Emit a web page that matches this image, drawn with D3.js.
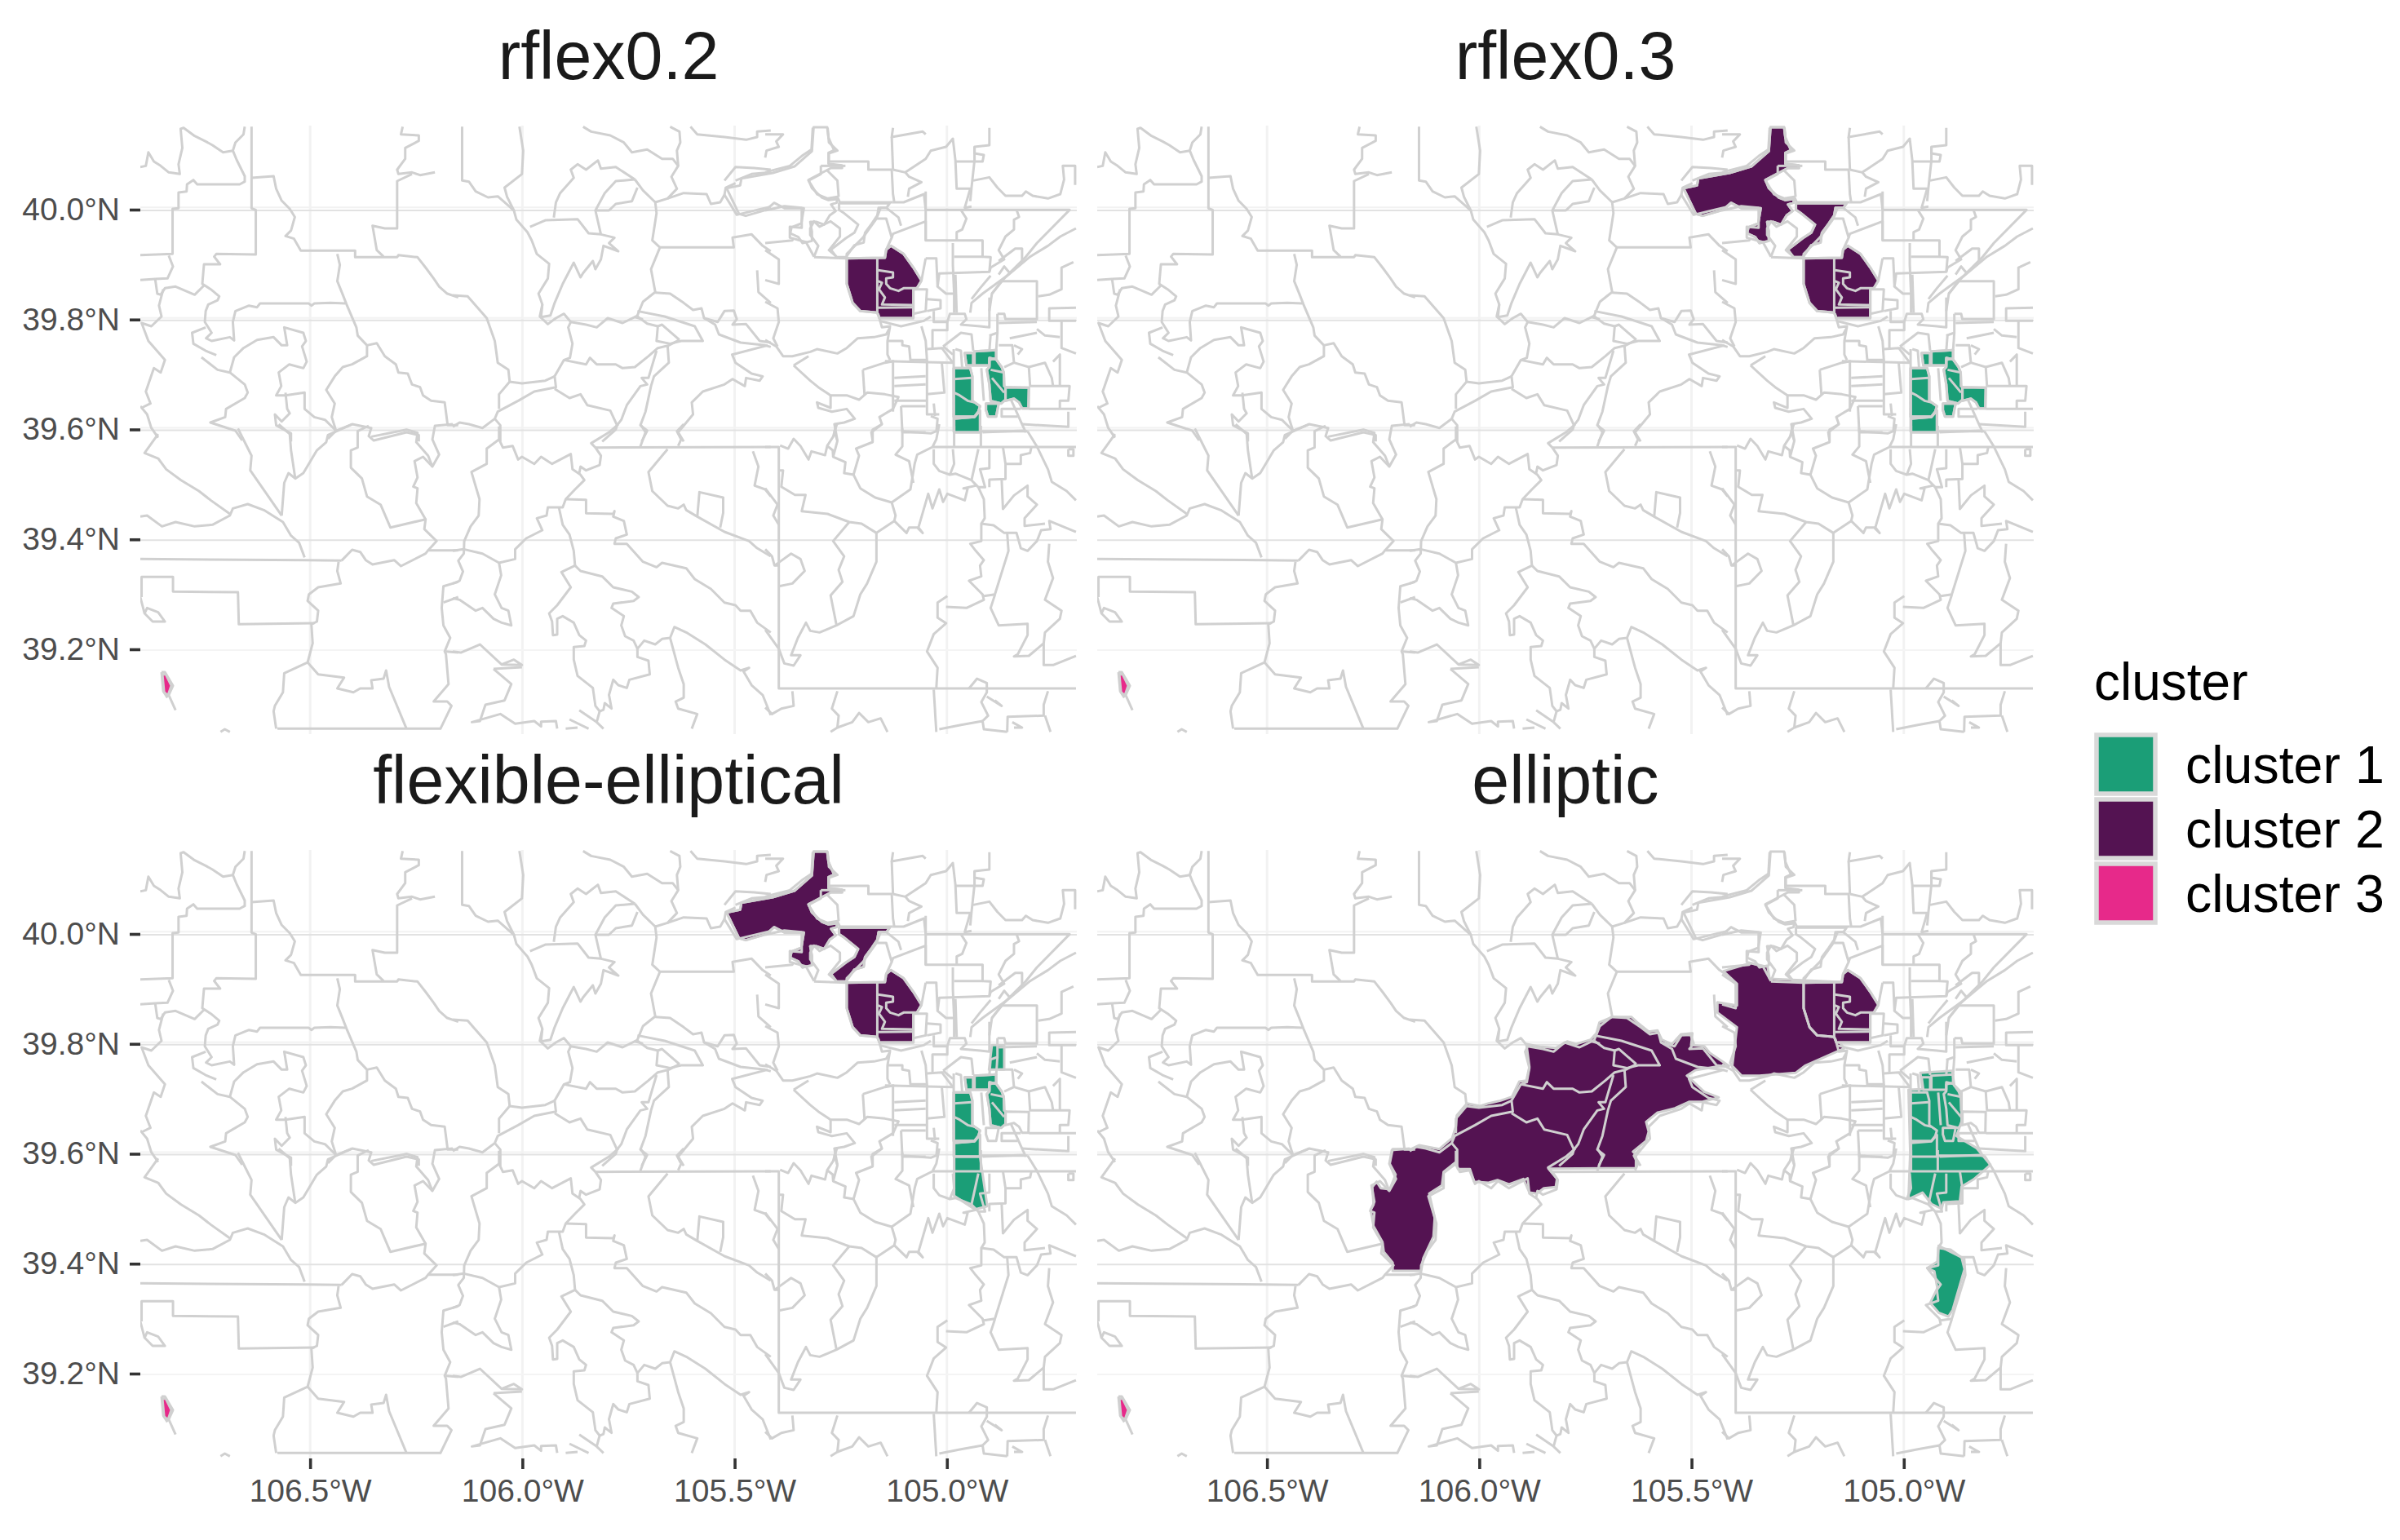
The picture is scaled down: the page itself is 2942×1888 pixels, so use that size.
<!DOCTYPE html>
<html>
<head>
<meta charset="utf-8">
<script src="https://cdn.jsdelivr.net/npm/d3@7"></script>
<style>
  body { margin: 0; background: #fff; }
  text { font-family: "Liberation Sans", Arial, sans-serif; }
</style>
</head>
<body>
<div id="canvas"></div>
<script>
// all map data is degrees west, degrees north, as flat lon,lat lists
var panelTitles = ['rflex0.2', 'rflex0.3', 'flexible-elliptical', 'elliptic'];
var clusterNames = ['cluster 1', 'cluster 2', 'cluster 3'];
var clusterColors = ['#1B9E77', '#541352', '#E7298A'];
var latTicks = [40.0, 39.8, 39.6, 39.4, 39.2];
var lonTicks = [106.5, 106.0, 105.5, 105.0];
var latFaint = [40.004, 39.803, 39.603];

var purpleCore = [105.236,39.911, 105.146,39.912, 105.143,39.927, 105.132,39.934, 105.102,39.919, 105.079,39.894, 105.060,39.870, 105.070,39.857, 105.079,39.853, 105.079,39.801, 105.159,39.801, 105.164,39.811, 105.204,39.814, 105.222,39.829, 105.230,39.849, 105.236,39.864];
var purpleBlobA = [105.314,40.152, 105.282,40.152, 105.279,40.133, 105.266,40.110, 105.279,40.105, 105.279,40.085, 105.247,40.082, 105.247,40.077, 105.273,40.077, 105.295,40.068, 105.326,40.055, 105.318,40.040, 105.295,40.023, 105.279,40.018, 105.258,40.020, 105.260,40.013, 105.273,40.010, 105.262,39.998, 105.276,39.990, 105.289,39.973, 105.308,39.978, 105.322,39.978, 105.318,39.960, 105.318,39.943, 105.340,39.939, 105.350,39.950, 105.369,39.957, 105.366,39.968, 105.343,39.975, 105.337,40.003, 105.382,40.003, 105.407,40.013, 105.426,40.000, 105.474,39.989, 105.490,39.993, 105.519,40.040, 105.487,40.045, 105.484,40.058, 105.410,40.068, 105.359,40.080, 105.318,40.108];
var purpleBlobB = [105.254,40.012, 105.135,40.012, 105.142,40.004, 105.161,40.004, 105.164,39.990, 105.177,39.975, 105.193,39.958, 105.196,39.940, 105.218,39.935, 105.238,39.913, 105.260,39.913, 105.273,39.927, 105.238,39.948, 105.218,39.958, 105.209,39.973, 105.244,39.995, 105.254,40.000];
var purpleEllipticSouth = [106.204,39.381, 106.137,39.381, 106.132,39.404, 106.108,39.444, 106.105,39.479, 106.118,39.523, 106.088,39.538, 106.084,39.563, 106.057,39.580, 106.050,39.568, 106.022,39.568, 106.012,39.545, 105.978,39.543, 105.957,39.548, 105.930,39.540, 105.896,39.550, 105.882,39.525, 105.865,39.523, 105.848,39.533, 105.820,39.535, 105.817,39.550, 105.837,39.569, 105.631,39.570, 105.631,39.595, 105.638,39.600, 105.607,39.620, 105.601,39.637, 105.607,39.655, 105.580,39.672, 105.539,39.680, 105.505,39.692, 105.474,39.692, 105.436,39.700, 105.470,39.710, 105.511,39.740, 105.491,39.750, 105.436,39.757, 105.412,39.758, 105.456,39.781, 105.470,39.794, 105.501,39.796, 105.498,39.818, 105.525,39.816, 105.546,39.798, 105.570,39.806, 105.580,39.823, 105.601,39.821, 105.628,39.838, 105.642,39.848, 105.686,39.848, 105.717,39.838, 105.724,39.818, 105.738,39.806, 105.772,39.798, 105.793,39.803, 105.820,39.791, 105.854,39.793, 105.889,39.798, 105.882,39.756, 105.889,39.731, 105.906,39.729, 105.923,39.701, 105.950,39.694, 105.978,39.689, 105.998,39.684, 106.029,39.689, 106.053,39.667, 106.055,39.647, 106.064,39.625, 106.094,39.605, 106.142,39.612, 106.160,39.605, 106.204,39.605, 106.211,39.578, 106.197,39.558, 106.211,39.531, 106.232,39.533, 106.242,39.545, 106.252,39.535, 106.249,39.503, 106.256,39.493, 106.249,39.463, 106.228,39.434, 106.225,39.416, 106.204,39.396];
var purpleEllipticNorth = [105.425,39.932, 105.361,39.947, 105.321,39.940, 105.316,39.918, 105.146,39.912, 105.150,39.800, 105.141,39.790, 105.233,39.758, 105.255,39.745, 105.340,39.740, 105.382,39.740, 105.404,39.758, 105.393,39.829, 105.439,39.856, 105.439,39.875, 105.393,39.869, 105.393,39.909];

var greenA = [104.958,39.737, 104.938,39.737, 104.938,39.714, 104.954,39.714];
var greenB = [104.935,39.740, 104.884,39.742, 104.884,39.727, 104.900,39.724, 104.900,39.714, 104.935,39.714];
var greenC = [104.900,39.728, 104.884,39.725, 104.871,39.711, 104.866,39.701, 104.865,39.676, 104.862,39.674, 104.862,39.651, 104.872,39.644, 104.897,39.649, 104.900,39.679, 104.906,39.706, 104.900,39.711];
var greenEast = [104.862,39.674, 104.807,39.673, 104.808,39.635, 104.823,39.635, 104.830,39.646, 104.842,39.653, 104.862,39.649];
var greenSmall = [104.908,39.644, 104.878,39.644, 104.884,39.620, 104.903,39.620, 104.908,39.632];
var greenWest = [104.984,39.709, 104.945,39.709, 104.940,39.694, 104.940,39.649, 104.922,39.639, 104.926,39.629, 104.935,39.620, 104.984,39.620];
var greenBottom = [104.983,39.616, 104.935,39.619, 104.922,39.631, 104.922,39.591, 104.983,39.591];
var greenFlexSouth = [104.983,39.591, 104.922,39.591, 104.918,39.570, 104.905,39.500, 104.934,39.494, 104.983,39.519];
var greenFlexNorth = [104.894,39.796, 104.865,39.796, 104.865,39.751, 104.901,39.751];
var greenLarge = [104.961,39.745, 104.886,39.749, 104.881,39.722, 104.864,39.709, 104.864,39.656, 104.876,39.629, 104.829,39.607, 104.796,39.576, 104.836,39.549, 104.864,39.536, 104.868,39.509, 104.907,39.507, 104.911,39.495, 104.935,39.504, 104.956,39.525, 104.989,39.513, 104.985,39.598, 104.989,39.714, 104.956,39.715];
var greenLower = [104.918,39.427, 104.864,39.406, 104.857,39.384, 104.885,39.309, 104.895,39.297, 104.918,39.304, 104.938,39.322, 104.921,39.349, 104.928,39.380, 104.945,39.386, 104.921,39.398];
var pinkSliver = [106.848,39.146, 106.840,39.146, 106.827,39.125, 106.835,39.107, 106.844,39.113];

var boundsNW = [
  [106.900,40.079, 106.887,40.081, 106.881,40.106, 106.868,40.089, 106.852,40.081, 106.833,40.069, 106.807,40.066, 106.810,40.084, 106.801,40.114, 106.805,40.149, 106.798,40.151, 106.772,40.136, 106.746,40.126, 106.730,40.119, 106.705,40.106, 106.682,40.109, 106.676,40.124, 106.657,40.139, 106.654,40.153],
  [106.682,40.109, 106.673,40.092, 106.654,40.062, 106.654,40.052, 106.666,40.047, 106.766,40.047, 106.775,40.055, 106.790,40.047, 106.791,40.034, 106.810,40.032, 106.810,40.003, 106.824,40.002, 106.824,39.919, 106.900,39.917],
  [106.638,40.153, 106.638,40.003, 106.628,40.000, 106.628,39.918, 106.721,39.919, 106.726,39.914, 106.712,39.900, 106.750,39.900, 106.754,39.864, 106.734,39.854, 106.714,39.841, 106.718,39.834, 106.740,39.826, 106.746,39.814, 106.748,39.794, 106.732,39.774, 106.745,39.764, 106.732,39.759, 106.689,39.766, 106.679,39.760, 106.682,39.794, 106.676,39.814, 106.644,39.824, 106.625,39.821, 106.618,39.828, 106.503,39.828, 106.497,39.824, 106.490,39.828, 106.452,39.829, 106.417,39.828],
  [106.638,40.059, 106.586,40.062, 106.580,40.039, 106.567,40.017, 106.548,40.002, 106.536,39.987, 106.545,39.962, 106.558,39.952, 106.538,39.947, 106.522,39.925, 106.394,39.925, 106.394,39.913, 106.295,39.913, 106.292,39.917, 106.247,39.913, 106.228,39.894, 106.209,39.874, 106.196,39.859, 106.177,39.846, 106.151,39.839],
  [106.436,39.919, 106.430,39.899, 106.436,39.869, 106.423,39.844, 106.414,39.826, 106.391,39.784, 106.388,39.769, 106.366,39.751, 106.366,39.731, 106.401,39.716, 106.423,39.711, 106.442,39.694, 106.462,39.669, 106.442,39.644, 106.449,39.619, 106.439,39.594, 106.458,39.579],
  [106.366,39.751, 106.343,39.755, 106.324,39.731, 106.298,39.716, 106.292,39.701, 106.270,39.699, 106.260,39.679, 106.241,39.674, 106.234,39.659, 106.215,39.649, 106.183,39.646, 106.176,39.604, 106.151,39.604],
  [106.833,39.916, 106.823,39.896, 106.836,39.874, 106.865,39.873, 106.900,39.871],
  [106.865,39.873, 106.860,39.846, 106.852,39.844, 106.842,39.856, 106.817,39.859, 106.772,39.844, 106.750,39.861],
  [106.846,39.854, 106.856,39.824, 106.850,39.804, 106.874,39.786, 106.897,39.792, 106.881,39.759, 106.842,39.724, 106.852,39.701, 106.868,39.709, 106.887,39.666, 106.876,39.644, 106.897,39.636],
  [106.900,39.639, 106.884,39.624, 106.874,39.599, 106.858,39.581],
  [106.746,39.784, 106.778,39.774, 106.775,39.754, 106.746,39.741, 106.721,39.733],
  [106.756,39.729, 106.718,39.706, 106.689,39.701, 106.654,39.679, 106.647,39.664, 106.654,39.654, 106.698,39.634, 106.700,39.619, 106.735,39.609, 106.676,39.594, 106.660,39.576],
  [106.689,39.701, 106.679,39.729, 106.657,39.746, 106.625,39.761, 106.586,39.766, 106.567,39.751, 106.554,39.751, 106.561,39.784, 106.516,39.774, 106.510,39.759, 106.519,39.749, 106.508,39.721, 106.516,39.709, 106.549,39.716, 106.574,39.701, 106.568,39.676, 106.580,39.659, 106.558,39.659, 106.513,39.664, 106.513,39.634, 106.490,39.619, 106.465,39.614, 106.439,39.594, 106.401,39.606, 106.356,39.599, 106.362,39.584, 106.350,39.576, 106.273,39.591, 106.244,39.586, 106.244,39.574],
  [106.558,39.664, 106.554,39.634, 106.548,39.626, 106.567,39.611, 106.583,39.624, 106.580,39.604, 106.545,39.589, 106.545,39.574],
  [106.282,40.153, 106.286,40.139, 106.244,40.137, 106.244,40.127, 106.276,40.114, 106.276,40.094, 106.295,40.074, 106.292,40.066, 106.260,40.069, 106.241,40.064, 106.206,40.069],
  [106.260,40.066, 106.295,40.053, 106.295,39.984, 106.295,39.966, 106.324,39.966, 106.353,39.971, 106.343,39.926, 106.327,39.914]
];

var boundsN = [
  [106.142,40.153, 106.142,40.054, 106.126,40.052, 106.110,40.034, 106.081,40.023, 106.058,40.025, 106.020,39.999, 106.014,39.982, 105.988,39.959, 105.978,39.944, 105.966,39.919, 105.937,39.901, 105.940,39.874, 105.962,39.846, 105.953,39.826, 105.959,39.804, 105.940,39.790, 105.921,39.801, 105.902,39.809, 105.886,39.794, 105.850,39.789, 105.825,39.784, 105.799,39.801, 105.764,39.792, 105.735,39.803, 105.716,39.799],
  [106.007,40.153, 105.998,40.109, 106.001,40.066, 106.042,40.041, 106.036,40.024, 106.020,39.999],
  [105.857,40.153, 105.838,40.144, 105.793,40.137, 105.761,40.124, 105.742,40.106, 105.706,40.111, 105.671,40.094, 105.646,40.094, 105.633,40.081, 105.649,40.061, 105.636,40.039, 105.658,40.021, 105.687,40.014, 105.716,40.036, 105.735,40.056],
  [105.652,40.153, 105.630,40.144, 105.628,40.124, 105.636,40.109, 105.633,40.081],
  [105.735,40.056, 105.780,40.079, 105.815,40.076, 105.822,40.091, 105.850,40.074, 105.870,40.084, 105.886,40.074, 105.879,40.059, 105.911,40.031, 105.921,40.014, 105.926,39.986],
  [105.982,39.969, 105.946,39.981, 105.870,39.983, 105.844,39.957, 105.815,39.955, 105.783,39.949, 105.796,39.939, 105.774,39.924, 105.809,39.934, 105.815,39.909, 105.828,39.891, 105.834,39.906, 105.857,39.884, 105.863,39.876, 105.879,39.903, 105.905,39.864, 105.924,39.829, 105.934,39.806, 105.956,39.803, 105.953,39.826],
  [105.735,40.056, 105.780,40.053, 105.806,40.031, 105.828,39.999, 105.815,39.955],
  [105.828,39.999, 105.796,39.999, 105.780,40.011, 105.742,40.016, 105.729,40.041],
  [105.687,40.014, 105.684,39.994, 105.694,39.944, 105.676,39.931, 105.697,39.891, 105.687,39.849, 105.716,39.831, 105.729,39.806, 105.735,39.803],
  [105.676,39.931, 105.502,39.931, 105.505,39.949, 105.460,39.955, 105.434,39.934, 105.415,39.924],
  [105.658,40.021, 105.620,40.031, 105.566,40.029, 105.556,40.011, 105.534,40.014, 105.524,40.028, 105.495,39.991, 105.415,40.006],
  [105.524,40.054, 105.498,40.079, 105.454,40.077, 105.415,40.074],
  [105.498,40.054, 105.460,40.066, 105.415,40.069],
  [105.524,40.028, 105.521,40.041, 105.498,40.049],
  [105.604,40.153, 105.588,40.139, 105.524,40.134, 105.473,40.129, 105.447,40.134, 105.447,40.144, 105.415,40.146],
  [105.687,39.848, 105.652,39.846, 105.620,39.829, 105.598,39.816, 105.578,39.819, 105.572,39.801, 105.546,39.789, 105.537,39.771, 105.486,39.756, 105.428,39.751, 105.415,39.748],
  [105.572,39.801, 105.540,39.794, 105.524,39.814, 105.502,39.815, 105.495,39.799, 105.505,39.789, 105.473,39.790, 105.441,39.759, 105.415,39.756],
  [105.447,39.889, 105.444,39.849, 105.415,39.829],
  [105.729,39.814, 105.665,39.804, 105.594,39.786, 105.575,39.759, 105.626,39.759, 105.652,39.754, 105.684,39.759, 105.681,39.786, 105.671,39.789, 105.649,39.774, 105.630,39.761],
  [105.729,39.804, 105.706,39.791, 105.681,39.786],
  [105.630,39.761, 105.655,39.751, 105.681,39.746, 105.703,39.731, 105.735,39.711, 105.764,39.709, 105.780,39.716, 105.825,39.716, 105.841,39.728, 105.850,39.716, 105.902,39.724, 105.888,39.728, 105.882,39.754, 105.892,39.784, 105.886,39.794],
  [105.902,39.724, 105.924,39.694, 105.921,39.674, 105.972,39.666, 106.010,39.649, 106.058,39.629, 106.065,39.616, 106.094,39.599, 106.126,39.606, 106.148,39.609, 106.164,39.601],
  [105.924,39.694, 105.946,39.686, 106.001,39.681, 106.030,39.684, 106.033,39.706, 106.058,39.719, 106.065,39.759, 106.084,39.801, 106.129,39.841, 106.164,39.843],
  [106.030,39.684, 106.055,39.661, 106.055,39.634],
  [106.065,39.616, 106.052,39.604, 106.052,39.574],
  [105.924,39.671, 105.889,39.654, 105.863,39.661, 105.847,39.641, 105.793,39.631, 105.777,39.604, 105.780,39.596, 105.812,39.574],
  [105.658,39.751, 105.655,39.719, 105.690,39.694, 105.697,39.676, 105.710,39.629, 105.722,39.604, 105.706,39.594, 105.719,39.574],
  [105.684,39.741, 105.703,39.691, 105.719,39.691, 105.706,39.679, 105.722,39.676, 105.754,39.641, 105.767,39.614, 105.777,39.604],
  [105.422,39.751, 105.506,39.734, 105.498,39.719, 105.460,39.699, 105.434,39.694, 105.441,39.686, 105.473,39.691, 105.476,39.676, 105.505,39.689, 105.524,39.679, 105.575,39.666, 105.601,39.646, 105.598,39.624, 105.633,39.591, 105.620,39.574]
];

var boundsNE = [
  [105.050,40.000, 104.711,40.000, 104.788,39.939, 104.814,39.914, 104.865,39.874, 104.894,39.846, 104.900,39.814],
  [105.050,40.034, 105.050,40.000, 105.050,39.944, 104.916,39.944, 104.916,39.914, 104.897,39.913, 104.900,39.886, 105.018,39.883, 105.022,39.859, 105.002,39.846, 104.983,39.846, 104.983,39.811],
  [104.986,39.939, 104.986,39.899, 104.983,39.846],
  [104.983,39.914, 104.916,39.914],
  [105.050,39.911, 105.025,39.911, 105.022,39.859],
  [105.079,39.854, 105.047,39.854, 105.050,39.814, 105.079,39.809],
  [105.047,39.836, 105.015,39.834, 105.015,39.819, 105.047,39.814],
  [105.038,39.804, 105.054,39.796, 105.108,39.786, 105.159,39.796],
  [105.164,39.911, 105.164,39.811],
  [105.162,39.889, 105.127,39.885, 105.127,39.876, 105.143,39.874, 105.143,39.864, 105.134,39.856, 105.114,39.851, 105.102,39.856, 105.070,39.856],
  [105.162,39.869, 105.153,39.866, 105.160,39.854, 105.146,39.839, 105.153,39.826, 105.079,39.825],
  [105.162,39.820, 105.079,39.821],
  [105.428,40.069, 105.415,40.072, 105.370,40.081, 105.342,40.099, 105.319,40.111, 105.316,40.151],
  [105.428,40.139, 105.386,40.139, 105.402,40.126, 105.396,40.116, 105.425,40.109, 105.428,40.096],
  [105.281,40.151, 105.278,40.124, 105.258,40.109, 105.278,40.104, 105.278,40.089, 105.185,40.089, 105.185,40.074, 105.130,40.074, 105.127,40.029, 105.124,40.014],
  [105.127,40.151, 105.130,40.134, 105.057,40.144, 105.050,40.139],
  [105.130,40.134, 105.127,40.074],
  [105.297,40.081, 105.297,40.066, 105.326,40.054, 105.306,40.029, 105.281,40.021, 105.258,40.024, 105.252,40.014, 105.127,40.014],
  [105.297,40.081, 105.239,40.081],
  [105.284,40.074, 105.258,40.054, 105.255,40.024],
  [105.127,40.014, 105.102,40.014, 105.054,40.029, 105.050,40.000],
  [105.127,40.074, 105.098,40.069, 105.089,40.061, 105.060,40.051, 105.089,40.039, 105.092,40.024],
  [105.098,40.069, 105.050,40.094, 105.038,40.109, 105.002,40.116, 104.986,40.131, 104.980,40.091, 104.977,40.039, 104.945,40.039, 104.958,40.004, 104.942,40.006],
  [104.980,40.089, 104.916,40.089, 104.913,40.101, 104.935,40.104, 104.935,40.116, 104.900,40.119, 104.900,40.151],
  [104.935,40.116, 104.935,40.091, 104.942,40.041, 104.945,40.016],
  [104.938,40.054, 104.900,40.060, 104.881,40.041, 104.862,40.026, 104.823,40.026, 104.814,40.034, 104.798,40.026, 104.762,40.021, 104.733,40.029, 104.724,40.056, 104.727,40.081, 104.698,40.081, 104.698,40.046],
  [105.428,39.999, 105.383,40.007, 105.342,40.004, 105.342,39.967, 105.370,39.969, 105.370,39.949, 105.332,39.941, 105.313,39.914],
  [105.313,39.913, 105.236,39.911],
  [105.428,39.939, 105.364,39.944, 105.361,39.949],
  [105.428,39.926, 105.396,39.909, 105.396,39.864, 105.428,39.871],
  [105.313,39.914, 105.303,39.934, 105.322,39.954, 105.322,39.966, 105.313,39.979, 105.300,39.969, 105.274,39.979, 105.252,39.966, 105.252,39.951, 105.278,39.926, 105.260,39.914],
  [105.143,39.927, 105.130,39.949, 105.143,39.984, 105.166,39.984, 105.198,39.949, 105.236,39.919, 105.236,39.911],
  [105.130,39.949, 105.127,39.956, 105.050,39.979, 105.050,39.944],
  [105.108,39.971, 105.114,39.986, 105.143,40.004, 105.156,40.004, 105.166,39.984],
  [105.060,39.870, 105.050,39.911],
  [105.162,39.809, 105.153,39.784, 105.134,39.786, 105.140,39.759, 105.140,39.734, 105.134,39.724],
  [105.140,39.759, 105.105,39.759, 105.105,39.751, 105.089,39.749, 105.086,39.724, 105.047,39.724, 105.050,39.759, 105.060,39.786],
  [105.127,39.724, 105.127,39.629],
  [105.146,39.722, 104.986,39.719],
  [105.047,39.724, 105.047,39.624, 105.018,39.624],
  [105.124,39.691, 105.050,39.694],
  [105.124,39.676, 105.050,39.679],
  [105.124,39.649, 105.047,39.649],
  [105.108,39.639, 105.050,39.639],
  [105.108,39.639, 105.105,39.591, 105.050,39.591],
  [105.047,39.661, 105.006,39.664, 105.012,39.719],
  [105.034,39.744, 105.034,39.779, 104.999,39.779, 104.999,39.794],
  [105.047,39.744, 105.012,39.746, 104.986,39.719],
  [105.031,39.814, 105.031,39.794, 104.999,39.794, 104.993,39.809, 104.958,39.809, 104.954,39.799, 104.967,39.789, 104.922,39.786, 104.900,39.784, 104.900,39.839],
  [104.881,39.809, 104.865,39.809, 104.862,39.799, 104.788,39.799, 104.788,39.869, 104.871,39.869, 104.894,39.846],
  [104.881,39.809, 104.881,39.774, 104.900,39.769],
  [104.878,39.792, 104.788,39.794],
  [104.785,39.841, 104.759,39.844, 104.730,39.854, 104.730,39.894, 104.702,39.904],
  [104.696,39.820, 104.759,39.819, 104.759,39.796, 104.696,39.796],
  [104.730,39.796, 104.730,39.746, 104.696,39.736],
  [104.788,39.781, 104.769,39.769, 104.734,39.766],
  [104.852,39.764, 104.788,39.774],
  [104.878,39.751, 104.846,39.751, 104.842,39.719, 104.865,39.711],
  [104.842,39.719, 104.807,39.711, 104.804,39.676, 104.711,39.676, 104.714,39.649, 104.734,39.649, 104.734,39.636],
  [104.807,39.711, 104.769,39.719, 104.753,39.691, 104.750,39.676],
  [104.750,39.721, 104.734,39.734, 104.734,39.676],
  [104.807,39.634, 104.696,39.634],
  [104.826,39.634, 104.871,39.634, 104.871,39.620, 104.833,39.620],
  [104.849,39.651, 104.823,39.606, 104.814,39.591],
  [104.823,39.606, 104.714,39.601, 104.714,39.629],
  [104.916,39.591, 104.820,39.594],
  [104.842,39.751, 104.823,39.744, 104.833,39.734],
  [104.836,40.000, 104.830,39.987, 104.842,39.982, 104.842,39.964, 104.862,39.951, 104.878,39.926, 104.865,39.909, 104.897,39.894, 104.900,39.886],
  [104.967,40.000, 104.954,39.984, 104.964,39.964, 104.977,39.959, 104.977,39.944],
  [104.878,39.906, 104.839,39.929, 104.823,39.929, 104.823,39.904, 104.852,39.884, 104.865,39.896, 104.878,39.881],
  [104.696,39.966, 104.733,39.951, 104.762,39.934, 104.804,39.914, 104.858,39.879, 104.916,39.846, 104.942,39.829, 104.945,39.811],
  [104.897,39.879, 104.922,39.856, 104.942,39.836],
  [104.980,39.881, 104.977,39.811],
  [105.428,39.761, 105.402,39.749, 105.386,39.731, 105.364,39.731, 105.322,39.739, 105.306,39.744, 105.258,39.736, 105.236,39.746, 105.210,39.764, 105.172,39.766, 105.143,39.771, 105.134,39.784],
  [105.428,39.831, 105.399,39.819, 105.396,39.794, 105.409,39.764, 105.399,39.749],
  [105.361,39.714, 105.326,39.731],
  [105.361,39.714, 105.322,39.686, 105.303,39.674, 105.274,39.659, 105.236,39.659, 105.207,39.651, 105.188,39.664, 105.146,39.661, 105.114,39.656, 105.127,39.634],
  [105.198,39.706, 105.194,39.659],
  [105.198,39.706, 105.146,39.719, 105.130,39.721],
  [105.274,39.659, 105.274,39.636, 105.306,39.646, 105.303,39.636, 105.271,39.629, 105.236,39.634, 105.217,39.616, 105.242,39.609, 105.265,39.606, 105.258,39.576],
  [105.127,39.634, 105.159,39.619, 105.153,39.606, 105.178,39.591, 105.175,39.576],
  [105.031,39.644, 105.028,39.621],
  [105.038,39.621, 105.022,39.616, 105.025,39.591],
  [104.984,39.744, 104.984,39.591],
  [105.009,39.749, 104.986,39.734],
  [105.009,39.749, 104.967,39.774, 104.942,39.771, 104.938,39.741],
  [104.897,39.771, 104.900,39.741],
  [104.881,39.774, 104.884,39.741],
  [104.980,39.744, 104.967,39.741, 104.964,39.709],
  [104.919,39.709, 104.916,39.679, 104.913,39.649],
  [104.983,39.689, 104.942,39.691],
  [104.983,39.664, 104.970,39.659, 104.951,39.649, 104.935,39.646],
  [104.897,39.706, 104.865,39.701],
  [104.894,39.691, 104.865,39.664]
];

var boundsSW = [
  [106.858,39.588, 106.890,39.553, 106.858,39.543, 106.839,39.523, 106.804,39.503, 106.762,39.483, 106.734,39.466, 106.689,39.441],
  [106.900,39.436, 106.884,39.438, 106.849,39.418, 106.817,39.426, 106.772,39.418, 106.730,39.421, 106.689,39.438, 106.682,39.451, 106.647,39.459, 106.609,39.448, 106.564,39.426, 106.545,39.401, 106.526,39.388, 106.513,39.361],
  [106.670,39.598, 106.654,39.573, 106.638,39.548, 106.641,39.521, 106.567,39.438],
  [106.567,39.438, 106.561,39.498, 106.551,39.516, 106.535,39.506, 106.516,39.516, 106.484,39.558, 106.462,39.573, 106.458,39.586, 106.401,39.606],
  [106.574,39.606, 106.548,39.588, 106.545,39.558, 106.535,39.506],
  [106.900,39.358, 106.510,39.356, 106.426,39.355],
  [106.426,39.355, 106.401,39.375, 106.382,39.371, 106.369,39.356, 106.353,39.348, 106.302,39.356, 106.286,39.345, 106.228,39.368, 106.222,39.374, 106.151,39.374],
  [106.222,39.374, 106.202,39.391, 106.231,39.413, 106.228,39.431, 106.311,39.416, 106.334,39.458, 106.366,39.473, 106.378,39.506, 106.404,39.526, 106.404,39.558, 106.388,39.563, 106.388,39.593, 106.362,39.603],
  [106.228,39.431, 106.250,39.461, 106.247,39.488, 106.257,39.491, 106.247,39.508, 106.254,39.538, 106.234,39.546, 106.212,39.528],
  [106.356,39.583, 106.273,39.596, 106.247,39.590, 106.250,39.573, 106.222,39.548, 106.212,39.528, 106.196,39.550, 106.212,39.578, 106.206,39.603, 106.164,39.606],
  [106.897,39.288, 106.897,39.325, 106.823,39.325, 106.823,39.298, 106.670,39.297, 106.668,39.238, 106.490,39.240],
  [106.900,39.288, 106.890,39.258, 106.871,39.243, 106.842,39.243, 106.858,39.260, 106.884,39.268, 106.890,39.258],
  [106.433,39.353, 106.436,39.336, 106.428,39.313, 106.481,39.306, 106.503,39.293, 106.506,39.281, 106.481,39.263, 106.484,39.243, 106.497,39.238, 106.494,39.203, 106.506,39.168, 106.561,39.148, 106.564,39.113, 106.583,39.088, 106.586,39.078, 106.580,39.046],
  [106.506,39.168, 106.481,39.146, 106.420,39.140, 106.436,39.120, 106.398,39.113, 106.382,39.120, 106.353,39.120, 106.356,39.135, 106.327,39.138, 106.321,39.153, 106.314,39.123, 106.273,39.046],
  [106.577,39.046, 106.193,39.046, 106.167,39.088, 106.177,39.096, 106.209,39.096, 106.174,39.128, 106.180,39.183, 106.183,39.188, 106.170,39.213, 106.186,39.236, 106.190,39.268, 106.186,39.308, 106.151,39.316],
  [106.151,39.288, 106.186,39.278],
  [106.180,39.188, 106.151,39.186],
  [106.850,39.150, 106.842,39.150, 106.823,39.125, 106.833,39.108, 106.817,39.080],
  [106.850,39.150, 106.846,39.115, 106.836,39.103],
  [106.711,39.040, 106.701,39.045, 106.689,39.040]
];

var boundsS = [
  [106.055,39.602, 106.055,39.578, 106.084,39.561, 106.084,39.533, 106.120,39.518, 106.101,39.468, 106.103,39.438, 106.122,39.418, 106.137,39.391, 106.138,39.368, 106.151,39.355, 106.140,39.335, 106.148,39.318, 106.164,39.313],
  [106.055,39.578, 106.046,39.563, 106.023,39.566, 106.010,39.541, 106.001,39.546, 105.972,39.533, 105.956,39.546, 105.930,39.533, 105.886,39.551, 105.882,39.523, 105.863,39.513, 105.854,39.503, 105.876,39.486, 105.898,39.468, 105.905,39.453, 105.940,39.453, 105.943,39.438, 105.966,39.433, 105.953,39.411, 105.991,39.396, 106.017,39.376, 106.017,39.358, 106.055,39.351, 106.094,39.368, 106.138,39.376, 106.164,39.373],
  [106.055,39.351, 106.050,39.328, 106.065,39.293, 106.049,39.268, 106.033,39.263, 106.026,39.236, 106.049,39.241, 106.068,39.248, 106.094,39.268, 106.110,39.263, 106.148,39.283, 106.164,39.286],
  [105.914,39.453, 105.905,39.421, 105.889,39.403, 105.879,39.373, 105.876,39.346, 105.908,39.334, 105.886,39.306, 105.918,39.273, 105.937,39.258, 105.930,39.243, 105.928,39.218, 105.918,39.219, 105.918,39.248, 105.905,39.253, 105.879,39.241, 105.866,39.218, 105.850,39.208, 105.854,39.198, 105.879,39.196, 105.879,39.173, 105.870,39.143, 105.834,39.121, 105.828,39.088, 105.818,39.078, 105.825,39.058],
  [105.876,39.346, 105.863,39.336, 105.812,39.326, 105.786,39.306, 105.742,39.298, 105.726,39.288, 105.738,39.281, 105.786,39.276, 105.790,39.268, 105.761,39.253, 105.767,39.236, 105.758,39.216, 105.738,39.208, 105.729,39.193, 105.713,39.208, 105.687,39.201, 105.671,39.211, 105.652,39.213, 105.642,39.233, 105.614,39.223, 105.569,39.201, 105.524,39.173, 105.486,39.153, 105.466,39.158, 105.479,39.151, 105.460,39.126, 105.434,39.108, 105.415,39.071],
  [105.729,39.193, 105.729,39.178, 105.703,39.171, 105.700,39.146, 105.748,39.136, 105.754,39.121, 105.774,39.126, 105.786,39.136, 105.796,39.108, 105.790,39.083, 105.806,39.093, 105.809,39.081, 105.818,39.078],
  [105.652,39.213, 105.633,39.158, 105.620,39.128, 105.620,39.103, 105.639,39.096, 105.633,39.083, 105.588,39.073, 105.601,39.046],
  [105.898,39.468, 105.850,39.467, 105.850,39.442, 105.786,39.441, 105.783,39.446, 105.786,39.436, 105.761,39.428, 105.754,39.403, 105.780,39.396, 105.783,39.386, 105.754,39.386, 105.716,39.353, 105.684,39.343, 105.671,39.351, 105.614,39.341, 105.594,39.321, 105.556,39.303, 105.524,39.278, 105.498,39.273, 105.486,39.263, 105.463,39.263, 105.447,39.241, 105.415,39.223],
  [105.828,39.563, 105.415,39.564],
  [105.828,39.563, 105.838,39.571, 105.796,39.591, 105.774,39.606],
  [105.828,39.563, 105.815,39.548, 105.818,39.531, 105.850,39.521, 105.863,39.528, 105.866,39.516],
  [105.658,39.560, 105.671,39.548, 105.703,39.518, 105.694,39.483, 105.658,39.456, 105.633,39.451, 105.620,39.458, 105.614,39.448, 105.588,39.436, 105.524,39.408, 105.466,39.391, 105.447,39.378, 105.415,39.363],
  [105.588,39.436, 105.583,39.481, 105.527,39.471, 105.527,39.443, 105.534,39.416],
  [105.722,39.565, 105.710,39.591, 105.722,39.606],
  [105.633,39.566, 105.626,39.578, 105.636,39.593, 105.620,39.606],
  [105.457,39.556, 105.444,39.528, 105.453,39.493, 105.428,39.486, 105.415,39.473],
  [106.164,39.188, 106.145,39.186, 106.100,39.201, 106.049,39.164, 106.001,39.163, 106.020,39.173, 106.049,39.164],
  [106.068,39.156, 106.001,39.159],
  [106.068,39.156, 106.026,39.128, 106.042,39.098, 106.087,39.090, 106.100,39.060, 106.119,39.058, 106.052,39.073, 106.017,39.055, 105.972,39.060, 105.956,39.050, 105.956,39.059, 105.921,39.060, 105.918,39.046],
  [105.866,39.080, 105.825,39.058, 105.809,39.046],
  [105.889,39.063, 105.844,39.046],
  [105.898,39.046, 105.870,39.048]
];

var boundsSE = [
  [105.428,39.564, 105.396,39.564, 105.396,39.120, 104.696,39.120],
  [105.034,39.564, 104.696,39.564],
  [105.393,39.567, 105.374,39.561, 105.361,39.579, 105.345,39.566, 105.326,39.541, 105.319,39.556, 105.287,39.549, 105.282,39.566, 105.269,39.558, 105.268,39.546, 105.239,39.536, 105.242,39.516, 105.220,39.513, 105.204,39.488, 105.169,39.471, 105.130,39.462],
  [105.282,39.566, 105.268,39.583, 105.262,39.600],
  [105.130,39.462, 105.086,39.486, 105.076,39.533, 105.070,39.550, 105.034,39.564],
  [105.130,39.462, 105.121,39.438, 105.124,39.428, 105.166,39.406, 105.201,39.423, 105.230,39.426, 105.281,39.441, 105.342,39.446, 105.333,39.476, 105.358,39.476, 105.390,39.491, 105.386,39.521, 105.396,39.521],
  [105.124,39.428, 105.095,39.406, 105.089,39.416, 105.070,39.416, 105.057,39.406, 105.067,39.416, 105.044,39.478, 105.034,39.451, 105.018,39.486, 105.009,39.463, 104.999,39.478, 104.958,39.466, 104.951,39.488, 104.961,39.488, 104.932,39.493],
  [105.428,39.488, 105.399,39.458, 105.409,39.438, 105.396,39.421],
  [105.230,39.426, 105.268,39.391, 105.242,39.363, 105.255,39.338, 105.246,39.316, 105.274,39.291, 105.260,39.236],
  [105.166,39.406, 105.166,39.353, 105.188,39.313, 105.204,39.293, 105.220,39.253, 105.260,39.236, 105.300,39.223, 105.322,39.226, 105.332,39.241, 105.351,39.213, 105.367,39.181, 105.345,39.181, 105.361,39.162, 105.383,39.166, 105.396,39.193, 105.428,39.228],
  [105.428,39.376, 105.412,39.363, 105.406,39.346, 105.396,39.346],
  [105.396,39.308, 105.364,39.313, 105.335,39.336, 105.345,39.358, 105.367,39.368, 105.390,39.355, 105.406,39.346],
  [104.999,39.290, 105.022,39.278, 105.022,39.250, 105.002,39.240, 105.031,39.220, 105.047,39.188, 105.022,39.158, 105.025,39.120],
  [105.002,39.270, 104.954,39.268, 104.913,39.283, 104.916,39.293, 104.948,39.318, 104.919,39.326, 104.922,39.346, 104.913,39.356, 104.932,39.373, 104.945,39.386, 104.919,39.391, 104.919,39.423, 104.890,39.420, 104.865,39.406, 104.836,39.406, 104.826,39.378, 104.810,39.373, 104.788,39.391, 104.778,39.411, 104.756,39.413, 104.759,39.428, 104.696,39.408],
  [104.858,39.406, 104.855,39.373, 104.887,39.293, 104.913,39.290],
  [104.887,39.292, 104.897,39.268, 104.878,39.236, 104.810,39.239, 104.810,39.218, 104.833,39.183, 104.842,39.179, 104.807,39.180, 104.772,39.203, 104.772,39.163, 104.750,39.163, 104.696,39.180],
  [104.772,39.203, 104.769,39.223, 104.734,39.248, 104.730,39.263, 104.769,39.283, 104.750,39.323, 104.762,39.353, 104.759,39.386],
  [104.919,39.423, 104.911,39.433, 104.913,39.468, 104.926,39.490, 104.942,39.503, 104.980,39.515, 104.993,39.513, 104.983,39.533, 104.986,39.560],
  [105.031,39.560, 105.031,39.533, 105.018,39.520, 104.993,39.513],
  [104.983,39.564, 104.983,39.603],
  [104.920,39.564, 104.920,39.603],
  [104.926,39.560, 104.942,39.503],
  [104.900,39.560, 104.900,39.525, 104.922,39.523, 104.910,39.490, 104.926,39.490],
  [104.868,39.564, 104.862,39.533, 104.862,39.505, 104.900,39.504, 104.900,39.490],
  [104.862,39.533, 104.826,39.533, 104.826,39.549, 104.804,39.553, 104.801,39.564],
  [104.871,39.503, 104.868,39.450, 104.842,39.475, 104.810,39.493, 104.810,39.473, 104.788,39.458, 104.817,39.433, 104.817,39.419, 104.769,39.423],
  [104.810,39.593, 104.788,39.565, 104.762,39.523, 104.753,39.500, 104.718,39.483, 104.696,39.466],
  [104.922,39.593, 104.810,39.593],
  [104.714,39.560, 104.702,39.560, 104.702,39.548, 104.714,39.548, 104.714,39.560],
  [105.105,39.598, 105.105,39.565, 105.121,39.550, 105.089,39.538, 105.079,39.498],
  [105.105,39.593, 105.038,39.589, 105.025,39.593],
  [105.258,39.608, 105.265,39.593, 105.258,39.575, 105.268,39.546],
  [105.153,39.606, 105.175,39.596, 105.175,39.573, 105.214,39.561, 105.207,39.548, 105.220,39.513],
  [105.018,39.606, 105.025,39.578, 105.034,39.564],
  [105.364,39.115, 105.361,39.088, 105.390,39.083, 105.412,39.073, 105.428,39.085],
  [105.258,39.115, 105.271,39.083, 105.255,39.070, 105.258,39.048, 105.274,39.040],
  [105.258,39.048, 105.223,39.058, 105.207,39.075, 105.185,39.058, 105.156,39.065, 105.140,39.040],
  [105.031,39.118, 105.025,39.040],
  [105.018,39.045, 104.967,39.053, 104.916,39.060, 104.913,39.045, 104.858,39.040],
  [104.948,39.120, 104.929,39.138, 104.906,39.130, 104.906,39.113, 104.919,39.095, 104.903,39.070, 104.916,39.060],
  [104.906,39.105, 104.871,39.088, 104.887,39.098],
  [104.858,39.040, 104.857,39.068, 104.772,39.070, 104.772,39.090, 104.762,39.115],
  [104.769,39.070, 104.756,39.040],
  [104.846,39.058, 104.823,39.048, 104.842,39.048]
];

// fills per panel: [region, cluster index]
var greenCoreSet = [[greenA, 0], [greenB, 0], [greenC, 0], [greenWest, 0], [greenBottom, 0]];
var panelFills = [
  greenCoreSet.concat([[greenEast, 0], [greenSmall, 0], [purpleCore, 1], [pinkSliver, 2]]),
  greenCoreSet.concat([[greenEast, 0], [greenSmall, 0], [purpleCore, 1], [purpleBlobA, 1], [purpleBlobB, 1], [pinkSliver, 2]]),
  greenCoreSet.concat([[greenFlexSouth, 0], [greenFlexNorth, 0], [purpleCore, 1], [purpleBlobA, 1], [purpleBlobB, 1], [pinkSliver, 2]]),
  [[greenLarge, 0], [greenLower, 0], [purpleEllipticSouth, 1], [purpleEllipticNorth, 1], [purpleCore, 1], [pinkSliver, 2]]
];
// outlines every panel shares, on top of the fills
var sharedOutlines = [purpleCore, purpleBlobA, purpleBlobB, greenA, greenB, greenC, greenEast, greenSmall, greenWest, greenBottom];

var panelW = 1148, panelH = 746;
var panelX = [172, 1345, 172, 1345];
var panelY = [154, 154, 1042, 1042];
var lineColor = '#d0d0d0';
var lineWidth = 3;

function pts(a) {
    return d3.range(0, a.length, 2).map(function(i) { return [a[i], a[i + 1]]; });
}

var x = d3.scaleLinear().domain([106.9, 104.694]).range([0, panelW]);
// the traced outlines run on a slightly different north-south stretch than the axis
var yMap = d3.scaleLinear().domain([40, 39]).range([103.35, 770.02]);
var y = d3.scaleLinear().domain([40, 39.2]).range([103, 642]);

var line = d3.line().x(function(d) { return x(d[0]); }).y(function(d) { return yMap(d[1]); });
var allBounds = boundsNW.concat(boundsN, boundsNE, boundsSW, boundsS, boundsSE);

var svg = d3.select('#canvas').append('svg')
    .attr('width', 2942)
    .attr('height', 1888);

svg.append('defs').append('clipPath').attr('id', 'panel-clip')
    .append('rect').attr('width', panelW).attr('height', panelH);

panelTitles.forEach(function(title, p) {
    var g = svg.append('g').attr('transform', 'translate(' + panelX[p] + ',' + panelY[p] + ')');

    g.append('text')
        .attr('x', panelW / 2)
        .attr('y', -57)
        .attr('text-anchor', 'middle')
        .attr('font-size', 82.5)
        .attr('fill', '#1a1a1a')
        .text(title);

    var map = g.append('g').attr('clip-path', 'url(#panel-clip)');

    map.selectAll('.grid-lon').data(lonTicks).enter().append('line')
        .attr('x1', function(d) { return x(d); }).attr('x2', function(d) { return x(d); })
        .attr('y1', 0).attr('y2', panelH)
        .attr('stroke', '#f2f2f2').attr('stroke-width', 3);

    map.selectAll('.grid-faint').data(latFaint).enter().append('line')
        .attr('x1', 0).attr('x2', panelW)
        .attr('y1', function(d) { return y(d); }).attr('y2', function(d) { return y(d); })
        .attr('stroke', '#f2f2f2').attr('stroke-width', 2);

    map.selectAll('.grid-lat').data(latTicks).enter().append('line')
        .attr('x1', 0).attr('x2', panelW)
        .attr('y1', function(d) { return y(d) + 1; }).attr('y2', function(d) { return y(d) + 1; })
        .attr('stroke', function(d) { return d === 39.2 ? '#f4f4f4' : '#e2e2e2'; })
        .attr('stroke-width', 2);

    map.selectAll('.fill').data(panelFills[p]).enter().append('path')
        .attr('d', function(d) { return line(pts(d[0])) + 'Z'; })
        .attr('fill', function(d) { return clusterColors[d[1]]; })
        .attr('stroke', lineColor)
        .attr('stroke-width', lineWidth)
        .attr('stroke-linejoin', 'round');

    map.selectAll('.bound').data(allBounds).enter().append('path')
        .attr('d', function(d) { return line(pts(d)); })
        .attr('fill', 'none')
        .attr('stroke', lineColor)
        .attr('stroke-width', lineWidth)
        .attr('stroke-linejoin', 'round');

    map.selectAll('.outline').data(sharedOutlines).enter().append('path')
        .attr('d', function(d) { return line(pts(d)) + 'Z'; })
        .attr('fill', 'none')
        .attr('stroke', lineColor)
        .attr('stroke-width', lineWidth)
        .attr('stroke-linejoin', 'round');

    if (p % 2 === 0) {
        var ay = g.append('g')
            .call(d3.axisLeft(y).tickValues(latTicks).tickSize(13).tickPadding(12)
                .tickFormat(function(d) { return d.toFixed(1) + '°N'; }));
        ay.select('.domain').remove();
        ay.selectAll('line').attr('stroke', '#333333').attr('stroke-width', 3.6);
        ay.selectAll('text').attr('font-size', 39).attr('font-family', 'Liberation Sans').attr('fill', '#4d4d4d');
    }
    if (p >= 2) {
        var ax = g.append('g').attr('transform', 'translate(0,' + panelH + ')')
            .call(d3.axisBottom(x).tickValues(lonTicks).tickSize(13).tickPadding(12)
                .tickFormat(function(d) { return d.toFixed(1) + '°W'; }));
        ax.select('.domain').remove();
        ax.selectAll('line').attr('stroke', '#333333').attr('stroke-width', 3.6);
        ax.selectAll('text').attr('font-size', 39).attr('font-family', 'Liberation Sans').attr('fill', '#4d4d4d');
    }
});

// legend
var legend = svg.append('g').attr('transform', 'translate(2567,858)');
legend.append('text').attr('font-size', 64).attr('fill', '#000').text('cluster');

var keyY = d3.scaleBand().domain(clusterNames).range([42, 279]);
var keys = legend.selectAll('.key').data(clusterNames).enter().append('g')
    .attr('transform', function(d) { return 'translate(0,' + keyY(d) + ')'; });
keys.append('rect')
    .attr('x', 3).attr('y', 1)
    .attr('width', 72).attr('height', 72)
    .attr('fill', function(d, i) { return clusterColors[i]; })
    .attr('stroke', '#d9d9d9')
    .attr('stroke-width', 5.5);
keys.append('text')
    .attr('x', 112).attr('y', 60)
    .attr('font-size', 64.5).attr('fill', '#000')
    .text(function(d) { return d; });
</script>
</body>
</html>
